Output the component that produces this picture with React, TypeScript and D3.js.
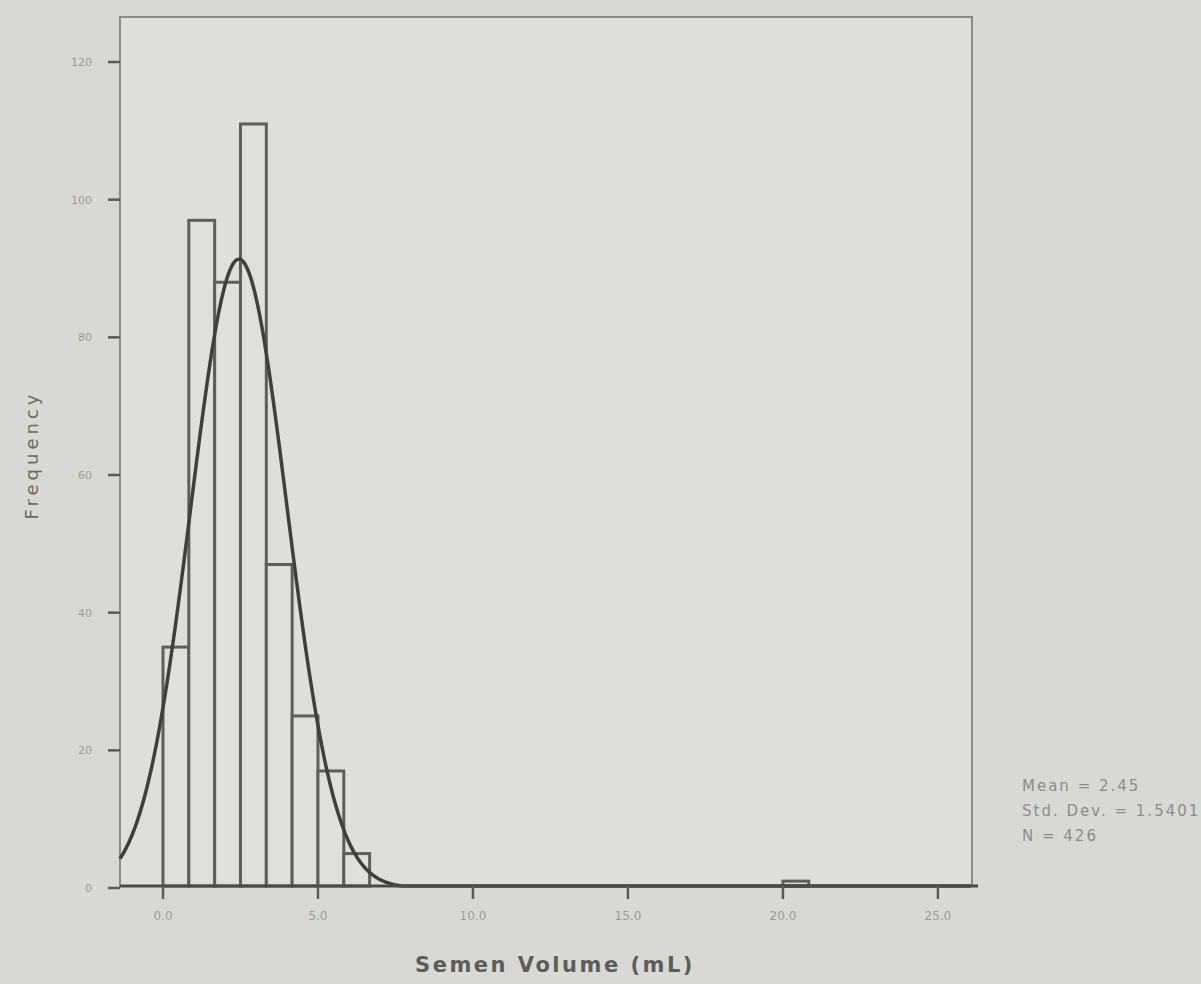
import React from "react";
import * as d3 from "d3";

const binWidth = 5 / 6;
const binStarts = [0, 1, 2, 3, 4, 5, 6, 7, 24];
const counts = [35, 97, 88, 111, 47, 25, 17, 5, 1];
const xTicks = [0, 5, 10, 15, 20, 25];
const yTicks = [0, 20, 40, 60, 80, 100, 120];
const meanVal = 2.45;
const sdVal = 1.55;
const nVal = 426;
const legendLines = ["Mean = 2.45", "Std. Dev. = 1.5401", "N = 426"];

const W = 1201;
const H = 984;
const left = 120, right = 972, top = 17, bottom = 886;

export default function App() {
  const x = d3.scaleLinear().domain([-1.387, 26.1]).range([left, right]);
  const y = d3.scaleLinear().domain([0, 120]).range([888, 62]);

  const dens = (v: number) =>
    (nVal * binWidth) / (sdVal * Math.sqrt(2 * Math.PI)) *
    Math.exp(-0.5 * ((v - meanVal) / sdVal) ** 2);
  const pts = d3.range(-1.387, 26.1, 0.05).map((v) => [v, dens(v)] as [number, number]);
  const line = d3.line<[number, number]>().x((d) => x(d[0])).y((d) => Math.min(y(d[1]), 886)).curve(d3.curveBasis);

  return (
    <svg width={W} height={H} style={{ position: "absolute", left: 0, top: 0, display: "block" }}
      fontFamily="DejaVu Sans, Liberation Sans, sans-serif">
      <rect x={0} y={0} width={W} height={H} fill="#d8d9d4" />
      <rect x={left} y={top} width={right - left} height={bottom - top} fill="#dedfda" stroke="#8a8b87" strokeWidth={2} />
      {binStarts.map((b, i) => (
        <rect key={i} x={x(b * binWidth)} y={y(counts[i])} width={x(binWidth) - x(0)}
          height={886 - y(counts[i])} fill="#dfe0db" stroke="#5e5f5b" strokeWidth={3} />
      ))}
      <path d={line(pts) || ""} fill="none" stroke="#3f403d" strokeWidth={3.5} />
      <line x1={left} x2={right + 6} y1={886} y2={886} stroke="#4a4b48" strokeWidth={3} />
      {yTicks.map((t) => (
        <g key={t}>
          <line x1={left - 12} x2={left} y1={y(t)} y2={y(t)} stroke="#5a5b58" strokeWidth={2.5} />
          <text x={left - 28} y={y(t) + 4} textAnchor="end" fontSize={11} fill="#9a9b97">{t}</text>
        </g>
      ))}
      {xTicks.map((t) => (
        <g key={t}>
          <line x1={x(t)} x2={x(t)} y1={886} y2={899} stroke="#5a5b58" strokeWidth={2.5} />
          <text x={x(t)} y={920} textAnchor="middle" fontSize={12} fill="#9a9b97">{t.toFixed(1)}</text>
        </g>
      ))}
      <text x={555} y={972} textAnchor="middle" fontSize={21} fontWeight="bold" letterSpacing={2.5} fill="#5c5d59">Semen Volume (mL)</text>
      <text transform="translate(38,455) rotate(-90)" textAnchor="middle" fontSize={18} letterSpacing={4} fill="#6a6b67">Frequency</text>
      {legendLines.map((s, i) => (
        <text key={i} x={1022} y={791 + i * 25} fontSize={15} letterSpacing={2} fill="#8c8d89">{s}</text>
      ))}
    </svg>
  );
}
